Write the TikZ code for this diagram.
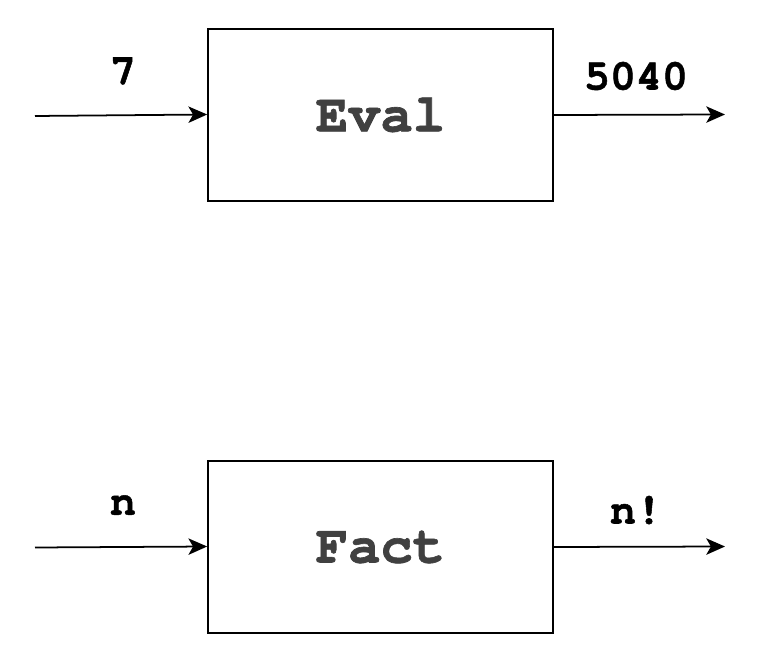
\documentclass[tikz,border=0pt]{standalone}
\usepackage{fontspec}
\newfontfamily\cursorfont[BoldFeatures={FakeBold=1.2}]{TeX Gyre Cursor}
\usetikzlibrary{arrows.meta}
\definecolor{boxtext}{HTML}{404040}
\tikzset{
	block/.style={draw, line width=1.4pt, minimum width=10.35cm, minimum height=5.16cm,
		font=\cursorfont\bfseries\fontsize{46}{50}\selectfont, text=boxtext},
	lbl/.style={font=\cursorfont\bfseries\fontsize{37}{40}\selectfont},
	wire/.style={line width=1.5pt, ->}
}
\begin{document}
\begin{tikzpicture}[x=0.03cm, y=-0.03cm, >={Stealth[length=16pt,width=14pt,inset=4pt]}]
		\useasboundingbox (0,0) rectangle (762,652);
		%Blocchi
		\node [block] (eval) at (380.5,115) {Eval};
		\node [block] (fact) at (380.5,547) {Fact};
		%Estremi
		\coordinate (evalin) at (35,116);
		\coordinate (evalout) at (725,114.5);
		\coordinate (factin) at (35,547.5);
		\coordinate (factout) at (725,546.5);
		%Frecce
		\draw [wire] (evalin) -- (eval.west |- 0,114.5);
		\draw [wire] (eval.east |- 0,115) -- (evalout);
		\draw [wire] (factin) -- (fact.west |- 0,546.5);
		\draw [wire] (fact.east |- 0,547) -- (factout);
		%Etichette
		\node [lbl] (seven) at (123,71) {7};
		\node [lbl] (result) at (636,76) {5040};
		\node [lbl] (nin) at (123,505) {n};
		\node [lbl] (nout) at (636,510) {n!};
	\end{tikzpicture}
\end{document}
